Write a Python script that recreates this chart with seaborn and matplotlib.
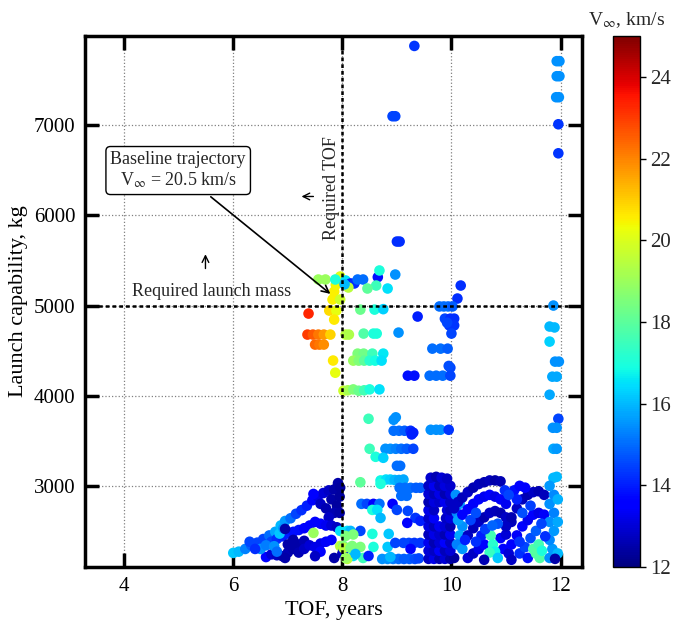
import numpy as np
import pandas as pd
import matplotlib
matplotlib.use("Agg")
import matplotlib.pyplot as plt
import seaborn as sns
from matplotlib.colors import Normalize

# ---------------- data (tof [years], launch mass [kg], v_inf [km/s]) ----------------
high_vinf_group = [
    (7.38, 4911, 23.3),
    (7.36, 4678, 23.0), (7.46, 4678, 22.6), (7.56, 4678, 22.2), (7.66, 4678, 21.7), (7.78, 4678, 20.9),
    (7.50, 4567, 22.4), (7.58, 4567, 22.2), (7.66, 4567, 21.9),
    (7.83, 4390, 20.6), (7.87, 4255, 20.2),
    (7.82, 5067, 20.5), (7.85, 5155, 20.5), (7.76, 4944, 20.8), (7.89, 4944, 20.2),
    (7.85, 4844, 20.6), (7.96, 5067, 19.8), (7.96, 5322, 20.0), (7.88, 5230, 20.4),
    (7.56, 5289, 19.0), (7.69, 5289, 19.0), (7.87, 5289, 17.0),
]

mid_group = [
    (8.06, 5278, 16.5), (8.15, 5245, 14.0), (8.22, 5245, 14.2), (8.28, 5289, 15.0), (8.38, 5289, 15.0),
    (8.65, 5315, 13.8), (8.68, 5389, 17.0), (8.97, 5344, 15.5), (8.62, 5222, 17.5), (8.46, 5189, 18.0),
    (8.83, 5189, 16.5), (8.11, 5200, 19.5), (8.04, 5235, 16.0),
    (8.33, 4955, 18.2), (8.59, 4955, 17.0), (8.75, 4960, 16.3),
    (9.03, 4700, 15.5),
    (8.06, 4678, 19.5), (8.12, 4678, 19.3), (8.39, 4689, 17.8), (8.57, 4689, 17.0), (8.63, 4689, 17.0),
    (8.28, 4467, 18.5), (8.39, 4467, 18.3), (8.55, 4467, 17.5), (8.75, 4467, 16.6),
    (8.20, 4389, 19.0), (8.30, 4389, 18.6), (8.40, 4389, 18.0), (8.50, 4389, 17.2), (8.60, 4389, 16.9), (8.72, 4389, 16.5),
    (8.02, 4055, 19.8), (8.10, 4060, 19.2), (8.20, 4070, 18.6), (8.30, 4055, 18.2), (8.40, 4060, 17.6),
    (8.50, 4070, 17.0), (8.68, 4070, 16.5),
]

blue_group = [
    (9.32, 7880, 14.3), (8.92, 7100, 14.5), (8.97, 7100, 14.5), (9.00, 5710, 14.2), (9.05, 5710, 14.2),
    (10.17, 5222, 14.2), (10.11, 5078, 14.2), (9.38, 4878, 14.0),
    (9.78, 4990, 15.0), (9.86, 4990, 15.0), (9.94, 4990, 15.0), (10.02, 4990, 14.8),
    (9.88, 4855, 14.5), (9.98, 4855, 14.2), (10.05, 4855, 14.2), (9.96, 4780, 14.3), (10.05, 4780, 14.3), (9.92, 4810, 14.5),
    (9.65, 4522, 15.0), (9.80, 4522, 15.0), (9.93, 4522, 14.8),
    (10.00, 4689, 14.5), (9.98, 4311, 14.5), (9.95, 4330, 14.6),
    (9.20, 4222, 13.8), (9.32, 4222, 13.8),
    (9.60, 4222, 15.0), (9.72, 4222, 15.0), (9.84, 4222, 15.0), (9.98, 4222, 14.5),
    (8.48, 3744, 17.5), (8.94, 3733, 15.5), (8.98, 3760, 15.5),
    (8.94, 3611, 15.0), (9.04, 3611, 15.0), (9.14, 3611, 14.8), (9.25, 3611, 14.2), (9.30, 3590, 14.0), (9.27, 3570, 14.0),
    (9.62, 3622, 15.5), (9.72, 3622, 15.5), (9.80, 3622, 15.5), (9.95, 3622, 14.3),
    (8.50, 3411, 17.5), (8.79, 3411, 15.5), (8.88, 3411, 15.5), (8.98, 3411, 15.3), (9.08, 3411, 15.0), (9.18, 3411, 14.8), (9.30, 3411, 14.5),
    (8.61, 3322, 17.0), (8.75, 3311, 16.3), (9.00, 3222, 15.0), (9.06, 3222, 15.0),
]

tof12_group = [
    (11.93, 7711, 15.5), (11.98, 7711, 15.5), (11.93, 7544, 15.5), (11.98, 7544, 15.5),
    (11.92, 7311, 15.5), (11.97, 7311, 15.5), (11.96, 7011, 14.3), (11.96, 6689, 14.3),
    (11.87, 5000, 15.5), (11.80, 4767, 16.0), (11.89, 4757, 16.0), (11.80, 4600, 16.3),
    (11.90, 4378, 15.5), (11.97, 4378, 15.5), (11.85, 4211, 15.8), (11.93, 4211, 15.8),
    (11.80, 4011, 15.8), (11.96, 3744, 14.5), (11.86, 3644, 15.5), (11.93, 3644, 15.5),
    (11.87, 3411, 15.8), (11.93, 3411, 15.6), (11.87, 3089, 16.0), (11.93, 3100, 16.0),
]

low_left_group = [
    (6.00, 2256, 16.2), (6.10, 2270, 16.0), (6.22, 2300, 15.3), (6.33, 2340, 14.8), (6.44, 2370, 14.5),
    (6.55, 2410, 14.5), (6.66, 2450, 15.0), (6.77, 2490, 15.8), (6.87, 2560, 16.0), (6.95, 2610, 15.6),
    (7.05, 2640, 15.0), (7.15, 2690, 14.5), (7.25, 2730, 14.2), (7.35, 2780, 14.0), (7.45, 2840, 13.6),
    (7.55, 2880, 13.2), (7.65, 2920, 13.0), (7.75, 2950, 12.8), (7.85, 2960, 12.5), (7.92, 3030, 12.5),
    (7.47, 2910, 13.5), (7.96, 2980, 12.4),
    (7.60, 2800, 12.8), (7.70, 2750, 12.6), (7.80, 2850, 12.5), (7.90, 2780, 12.4), (7.95, 2880, 12.4),
    (7.85, 2700, 12.6), (7.75, 2650, 12.8), (7.95, 2700, 12.5),
    (6.70, 2380, 14.5), (6.80, 2410, 14.2), (6.90, 2440, 14.0), (7.00, 2470, 14.0), (7.10, 2490, 13.8),
    (7.20, 2510, 13.8), (7.30, 2530, 13.6), (7.40, 2560, 13.5), (7.50, 2600, 13.6), (7.60, 2580, 13.5),
    (7.70, 2560, 13.3), (7.80, 2560, 13.0), (7.90, 2540, 12.8),
    (6.60, 2210, 13.5), (6.70, 2240, 13.0), (6.80, 2230, 12.8), (6.90, 2220, 12.6), (7.00, 2260, 12.6),
    (7.10, 2300, 12.5), (7.20, 2350, 12.5), (7.30, 2390, 12.6), (7.10, 2400, 12.5), (7.00, 2350, 12.5),
    (7.20, 2260, 12.6), (7.30, 2300, 12.8), (7.40, 2340, 13.0), (7.50, 2320, 13.2), (7.60, 2360, 13.2),
    (7.70, 2380, 13.4), (7.80, 2400, 13.6), (7.60, 2270, 13.5), (7.50, 2220, 12.8), (7.85, 2200, 12.5),
    (6.95, 2200, 12.5),
    (6.50, 2300, 15.5), (6.60, 2340, 15.2), (6.75, 2330, 15.5), (6.85, 2470, 16.2), (6.92, 2530, 15.5),
    (6.80, 2270, 15.0), (6.30, 2380, 14.5), (6.40, 2300, 14.2), (6.95, 2522, 12.5),
    (7.47, 2478, 19.0), (7.96, 2333, 19.5), (7.96, 2500, 16.5), (8.00, 2250, 12.6),
]

low_mid_group = [
    (8.33, 3040, 18.0), (8.70, 3060, 16.8), (8.80, 3070, 16.5), (8.88, 3070, 16.3), (8.96, 3065, 16.0),
    (9.04, 3065, 15.8), (9.12, 3070, 15.8), (8.70, 3022, 17.0),
    (9.05, 2978, 15.0), (9.15, 2978, 15.0), (9.25, 2978, 15.0), (9.35, 2978, 14.8), (9.43, 2978, 14.8),
    (9.08, 2889, 15.0), (9.18, 2889, 15.0),
    (8.35, 2800, 15.0), (8.45, 2800, 14.5), (8.57, 2800, 13.5), (8.68, 2800, 15.0), (8.92, 2800, 13.5),
    (8.55, 2733, 17.0), (8.64, 2733, 16.5), (9.00, 2733, 14.5), (9.20, 2722, 14.5),
    (8.70, 2644, 16.0), (9.34, 2644, 14.3), (9.43, 2611, 14.0), (9.19, 2589, 13.5),
    (8.09, 2500, 16.5), (8.15, 2500, 16.0), (8.33, 2500, 14.5),
    (8.06, 2444, 18.5), (8.20, 2460, 18.5), (8.55, 2467, 17.0), (8.85, 2467, 16.2),
    (8.02, 2333, 18.5), (8.18, 2333, 18.5), (8.33, 2322, 18.5), (8.57, 2322, 17.0), (8.83, 2322, 16.2),
    (8.97, 2367, 14.5), (9.12, 2367, 14.5), (9.22, 2367, 14.5), (9.32, 2367, 14.3), (9.43, 2367, 14.3),
    (9.25, 2300, 13.5),
    (8.20, 2222, 16.5), (8.38, 2200, 17.5), (8.48, 2222, 14.0), (8.09, 2189, 19.5), (8.02, 2278, 13.0),
    (8.73, 2189, 15.5), (8.83, 2189, 15.5), (8.93, 2189, 15.2), (9.03, 2189, 15.0), (9.13, 2189, 14.8),
    (9.23, 2189, 14.8), (9.33, 2189, 14.6), (9.40, 2195, 14.5),
    (8.88, 2211, 16.0), (8.02, 2311, 19.5), (8.15, 2311, 18.5), (8.24, 2244, 16.0), (8.06, 2200, 19.0),
]

column_group = [
    (9.58, 2190, 12.8), (9.68, 2190, 13.2), (9.78, 2190, 12.6), (9.88, 2190, 13.0), (9.98, 2190, 12.5), (10.05, 2200, 12.4),
    (9.58, 2280, 13.0), (9.68, 2280, 12.8), (9.78, 2280, 13.4), (9.88, 2280, 12.7), (9.98, 2280, 13.0),
    (9.58, 2370, 13.3), (9.68, 2370, 12.6), (9.78, 2370, 13.0), (9.88, 2370, 13.5), (9.98, 2370, 12.8),
    (9.58, 2460, 12.7), (9.68, 2460, 13.2), (9.78, 2460, 12.9), (9.88, 2460, 12.6), (9.98, 2460, 13.3),
    (9.58, 2550, 13.1), (9.68, 2550, 12.7), (9.78, 2550, 13.3), (9.88, 2550, 13.0), (9.98, 2550, 12.6),
    (9.58, 2640, 12.9), (9.68, 2640, 13.4), (9.90, 2640, 12.8), (9.98, 2640, 13.1),
    (9.58, 2730, 13.2), (9.68, 2730, 12.8), (9.92, 2730, 13.0), (9.98, 2730, 12.7),
    (9.58, 2820, 12.6), (9.68, 2820, 13.1), (9.78, 2820, 12.9), (9.88, 2820, 13.3), (9.98, 2820, 12.8),
    (9.58, 2910, 13.0), (9.68, 2910, 12.7), (9.78, 2910, 13.2), (9.88, 2910, 12.6), (9.98, 2910, 13.0),
    (9.58, 3000, 12.8), (9.68, 3000, 13.3), (9.78, 3000, 12.7), (9.88, 3000, 13.1), (9.98, 3000, 12.9),
    (9.62, 3090, 12.9), (9.72, 3100, 12.6), (9.82, 3090, 13.0), (9.92, 3080, 12.8),
]

low_right_group = [
    (10.08, 2900, 15.5), (10.15, 2800, 15.6), (10.10, 2700, 15.4), (10.20, 2550, 15.5), (10.15, 2450, 15.8),
    (10.10, 2350, 15.3), (10.20, 2300, 15.6), (10.12, 2620, 15.7),
    (10.05, 2750, 12.8), (10.12, 2820, 12.8), (10.20, 2870, 12.7), (10.30, 2930, 12.8), (10.40, 2980, 12.6),
    (10.50, 3020, 12.7), (10.60, 3040, 12.6), (10.70, 3060, 12.7), (10.80, 3060, 12.5), (10.90, 3050, 12.6),
    (10.20, 2680, 13.5), (10.30, 2740, 13.6), (10.40, 2800, 13.4), (10.50, 2850, 13.5),
    (10.60, 2880, 13.3), (10.70, 2900, 13.5), (10.80, 2880, 13.2), (10.90, 2850, 13.4), (11.00, 2800, 13.3),
    (10.30, 2450, 12.8), (10.40, 2530, 12.7), (10.50, 2600, 12.8), (10.60, 2650, 12.6), (10.70, 2700, 12.8),
    (10.80, 2720, 12.7), (10.90, 2700, 12.6), (11.00, 2650, 12.8), (11.10, 2600, 12.7),
    (10.30, 2200, 13.0), (10.40, 2250, 12.8), (10.50, 2300, 13.2), (10.60, 2350, 13.5), (10.55, 2450, 14.0),
    (10.45, 2380, 14.2), (10.90, 2420, 13.4), (11.00, 2460, 13.0), (10.95, 2300, 13.6), (11.05, 2250, 13.0),
    (10.72, 2450, 17.6), (10.76, 2350, 17.2), (10.80, 2270, 16.8), (10.70, 2260, 17.4), (10.85, 2200, 16.2),
    (11.00, 2550, 12.8), (11.10, 2650, 12.6), (11.20, 2750, 12.8), (11.30, 2850, 12.7), (11.40, 2900, 12.6),
    (11.50, 2930, 12.8), (11.60, 2940, 12.6), (11.70, 2900, 12.7),
    (11.10, 2350, 13.5), (11.20, 2450, 13.4), (11.30, 2550, 13.6), (11.40, 2620, 13.3), (11.50, 2680, 13.5),
    (11.60, 2700, 13.2), (11.70, 2680, 13.4),
    (11.15, 2950, 13.8), (11.25, 3000, 13.5), (11.35, 2980, 13.6), (11.20, 2850, 14.0),
    (11.25, 2250, 14.2), (11.35, 2320, 14.5), (11.40, 2200, 13.8), (11.45, 2420, 14.6),
    (11.50, 2300, 17.8), (11.55, 2250, 17.9), (11.60, 2350, 17.6), (11.62, 2200, 17.8), (11.66, 2280, 17.0),
    (11.80, 2200, 15.5), (11.85, 2300, 15.6), (11.80, 2400, 15.4), (11.88, 2500, 15.6), (11.80, 2600, 15.5),
    (11.88, 2700, 15.3), (11.80, 2800, 15.5), (11.88, 2900, 15.4), (11.80, 3000, 15.6),
    (11.95, 2250, 16.0), (11.95, 2600, 15.8), (11.95, 2850, 15.9),
    (11.90, 2190, 12.5), (10.60, 2180, 12.6), (11.10, 2180, 12.8),
    (10.35, 2620, 14.5), (10.45, 2700, 14.6), (10.62, 2520, 14.4), (10.85, 2580, 14.7), (10.98, 2950, 14.2),
    (11.05, 2900, 14.5), (11.30, 2700, 14.6), (11.45, 2780, 14.4), (11.55, 2500, 14.8), (11.65, 2580, 14.5),
    (11.25, 2380, 14.3), (10.25, 2400, 14.0), (10.75, 2560, 14.9), (11.72, 2440, 14.2),
]

groups = [high_vinf_group, mid_group, blue_group, tof12_group,
          low_left_group, low_mid_group, column_group, low_right_group]

rows = [p for g in groups for p in g]
df = pd.DataFrame(rows, columns=["tof", "mass", "vinf"])

x_ticks = [4, 6, 8, 10, 12]
y_ticks = [3000, 4000, 5000, 6000, 7000]
cbar_ticks = [12, 14, 16, 18, 20, 22, 24]
required_tof = 8
required_mass = 5000

# ---------------- style ----------------
sns.set_style("white")
plt.rcParams["font.family"] = ["Liberation Serif", "DejaVu Serif"]
plt.rcParams["mathtext.fontset"] = "stix"

fig = plt.figure(figsize=(6.74, 6.21), dpi=100)
ax = fig.add_axes([0.126, 0.087, 0.738, 0.855])
cax = fig.add_axes([0.9095, 0.087, 0.040, 0.855])

jet = matplotlib.colormaps["jet"]
norm = Normalize(vmin=12, vmax=25)
sns.scatterplot(data=df, x="tof", y="mass", hue="vinf", palette=jet,
                hue_norm=norm, s=58, linewidth=0, legend=False, ax=ax, zorder=3)

ax.set_xlim(3.28, 12.4)
ax.set_ylim(2100, 7990)
ax.set_xticks(x_ticks)
ax.set_yticks(y_ticks)
ax.grid(True, ls=":", color="gray", lw=0.9)
ax.set_axisbelow(True)

ax.axvline(required_tof, color="black", lw=1.8, ls=(0, (1.5, 1.2)), zorder=4)
ax.axhline(required_mass, color="black", lw=1.8, ls=(0, (1.5, 1.2)), zorder=4)

ax.tick_params(direction="in", length=10, width=2.5, color="black",
               top=True, right=True, bottom=True, left=True,
               labelsize=15, pad=7, labelcolor="black")
for sp in ax.spines.values():
    sp.set_linewidth(2.5)
    sp.set_color("black")

ax.set_xlabel("TOF, years", fontsize=16, color="black")
ax.set_ylabel("Launch capability, kg", fontsize=16, color="black")

ax.text(5.6, 5160, "Required launch mass", fontsize=13, ha="center", va="center")
ax.text(7.8, 6300, "Required TOF", fontsize=13, ha="center", va="center", rotation=90)
ax.annotate("", xy=(5.49, 5600), xytext=(5.49, 5380),
            arrowprops=dict(arrowstyle="->", lw=1.0, color="black", mutation_scale=12))
ax.annotate("", xy=(7.2, 6210), xytext=(7.52, 6210),
            arrowprops=dict(arrowstyle="->", lw=1.0, color="black", mutation_scale=12))
ax.annotate("Baseline trajectory\nV$_{\\infty}$ = 20.5 km/s", xy=(7.82, 5110), xytext=(4.99, 6500),
            fontsize=13, ha="center", va="center", zorder=5,
            bbox=dict(boxstyle="round,pad=0.25", fc="white", ec="black", lw=1.0),
            arrowprops=dict(arrowstyle="->", lw=1.2, color="black"))

sm = plt.cm.ScalarMappable(norm=norm, cmap=jet)
cb = fig.colorbar(sm, cax=cax, ticks=cbar_ticks)
cb.ax.tick_params(labelsize=15, length=4, width=1, color="black", right=True)
cb.outline.set_linewidth(1.0)
cb.outline.set_edgecolor("black")
cax.set_title("V$_{\\infty}$, km/s", fontsize=14, pad=8)

fig.savefig("out.png", dpi=100)
